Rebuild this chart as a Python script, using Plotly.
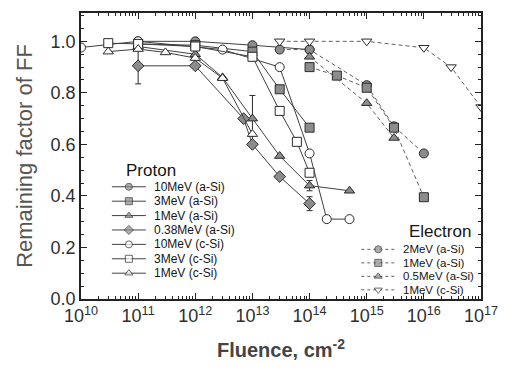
import plotly.graph_objects as go

# ---------------- proton irradiation (solid lines) ----------------
p10_asi_x = [1e11, 1e12, 1e13, 1e14]
p10_asi_y = [1.00, 1.00, 0.985, 0.968]

p3_asi_x = [1e11, 1e12, 1e13, 3e13, 1e14]
p3_asi_y = [0.99, 0.985, 0.96, 0.814, 0.665]

p1_asi_x = [1e11, 1e12, 3e12, 1e13, 3e13, 1e14, 5e14]
p1_asi_y = [0.98, 0.95, 0.86, 0.70, 0.555, 0.44, 0.42]
p1_asi_err = [0, 0, 0, 0.09, 0, 0.02, 0]

p038_asi_x = [1e11, 1e12, 7e12, 1e13, 3e13, 1e14]
p038_asi_y = [0.905, 0.905, 0.70, 0.60, 0.475, 0.37]
p038_asi_err = [0.07, 0, 0, 0, 0, 0.027]

p10_csi_x = [1e10, 1e11, 3e12, 3e13, 1e14, 2e14, 5e14]
p10_csi_y = [0.976, 1.0, 0.968, 0.90, 0.565, 0.31, 0.31]

p3_csi_x = [3e10, 1e11, 1e12, 1e13, 3e13, 6e13, 1e14]
p3_csi_y = [0.993, 0.99, 0.98, 0.94, 0.73, 0.61, 0.49]

p1_csi_x = [3e10, 1e11, 3e11, 1e12, 3e12, 1e13]
p1_csi_y = [0.96, 0.97, 0.957, 0.935, 0.857, 0.64]

# ---------------- electron irradiation (dashed lines) ----------------
e2_asi_x = [3e13, 1e14, 1e15, 3e15, 1e16]
e2_asi_y = [0.968, 0.968, 0.83, 0.67, 0.565]

e1_asi_x = [1e14, 3e14, 1e15, 3e15, 1e16]
e1_asi_y = [0.90, 0.867, 0.82, 0.665, 0.395]

e05_asi_x = [1e14, 1e15, 3e15]
e05_asi_y = [0.94, 0.76, 0.625]

e1_csi_x = [3e13, 1e14, 1e15, 1e16, 3e16, 1e17]
e1_csi_y = [1.0, 1.0, 1.0, 0.975, 0.90, 0.745]

# axis ticks
x_tick_vals = [1e10, 1e11, 1e12, 1e13, 1e14, 1e15, 1e16, 1e17]
x_tick_text = ["10<sup>%d</sup>" % e for e in range(10, 18)]
y_tick_vals = [0.0, 0.2, 0.4, 0.6, 0.8, 1.0]
y_tick_text = ["0.0", "0.2", "0.4", "0.6", "0.8", "1.0"]

INK = "#2a2a2a"
HATCH = "#8c8c8c"
FONT = "Liberation Sans, Arial, sans-serif"

proton = [
    ("10MeV (a-Si)", p10_asi_x, p10_asi_y, None, "circle", HATCH),
    ("3MeV (a-Si)", p3_asi_x, p3_asi_y, None, "square", HATCH),
    ("1MeV (a-Si)", p1_asi_x, p1_asi_y, p1_asi_err, "triangle-up", HATCH),
    ("0.38MeV (a-Si)", p038_asi_x, p038_asi_y, p038_asi_err, "diamond", HATCH),
    ("10MeV (c-Si)", p10_csi_x, p10_csi_y, None, "circle", "white"),
    ("3MeV (c-Si)", p3_csi_x, p3_csi_y, None, "square", "white"),
    ("1MeV (c-Si)", p1_csi_x, p1_csi_y, None, "triangle-up", "white"),
]
electron = [
    ("2MeV (a-Si)", e2_asi_x, e2_asi_y, None, "circle", HATCH),
    ("1MeV (a-Si)", e1_asi_x, e1_asi_y, None, "square", HATCH),
    ("0.5MeV (a-Si)", e05_asi_x, e05_asi_y, None, "triangle-up", HATCH),
    ("1MeV (c-Si)", e1_csi_x, e1_csi_y, None, "triangle-down", "white"),
]

fig = go.Figure()


def add_series(name, xs, ys, err, symbol, fill, dash):
    kw = {}
    if err is not None:
        kw["error_y"] = dict(type="data", array=err, visible=True,
                             color=INK, thickness=1, width=3)
    fig.add_trace(go.Scatter(
        x=xs, y=ys, name=name, mode="lines+markers", showlegend=False,
        line=dict(color="#404040" if dash == "solid" else "#606060",
                  width=1, dash=dash),
        marker=dict(symbol=symbol, size=9, color=fill,
                    line=dict(color=INK, width=1)),
        **kw))


for s in proton:
    add_series(*s, "solid")
for s in electron:
    add_series(*s, "4px,3px")

# ---------------- hand-placed legend boxes (pixel overlay axes) ----------------
PLOT_L, PLOT_R, PLOT_T, PLOT_B = 81, 482, 11, 299


def legend_block(title, title_xy, entries, x0, x1, y0, step, dash, size):
    fig.add_annotation(x=title_xy[0], y=title_xy[1], xref="x2", yref="y2",
                       text=title, showarrow=False, xanchor="center",
                       yanchor="middle",
                       font=dict(family=FONT, size=17, color="#151515"))
    for i, (name, _, _, _, symbol, fill) in enumerate(entries):
        yy = y0 + i * step
        xm = (x0 + x1) / 2
        fig.add_trace(go.Scatter(
            x=[x0, xm, x1], y=[yy, yy, yy], xaxis="x2", yaxis="y2",
            mode="lines+markers", showlegend=False, hoverinfo="skip",
            line=dict(color="#404040" if dash == "solid" else "#606060",
                      width=1, dash=dash),
            marker=dict(symbol=symbol, size=[0, 7, 0], color=fill,
                        line=dict(color=INK, width=1))))
        fig.add_annotation(x=x1 + 6, y=yy, xref="x2", yref="y2", text=name,
                           showarrow=False, xanchor="left", yanchor="middle",
                           font=dict(family=FONT, size=size, color="#151515"))


legend_block("Proton", (151, 170), proton, 112, 146, 186, 14.5, "solid", 12)
legend_block("Electron", (441, 231), electron, 362, 396, 249, 13.6,
             "3px,3px", 11.5)

minor_x = [k * 10 ** e for e in range(10, 17) for k in range(2, 10)]

fig.update_layout(
    width=509, height=376,
    margin=dict(l=PLOT_L, r=509 - PLOT_R, t=PLOT_T, b=376 - PLOT_B),
    paper_bgcolor="white", plot_bgcolor="white",
    font=dict(family=FONT, color="#333"),
    xaxis=dict(
        type="log", range=[10, 17], tickmode="array",
        tickvals=x_tick_vals, ticktext=x_tick_text,
        ticks="inside", ticklen=6, tickwidth=1, tickcolor="#222",
        mirror="allticks", showline=True, linecolor="#222", linewidth=1.5,
        showgrid=False, zeroline=False,
        tickfont=dict(family=FONT, size=18, color="#2e2e2e"),
        minor=dict(tickmode="array", tickvals=minor_x, ticks="inside",
                   ticklen=3, tickcolor="#222", showgrid=False),
        title=dict(text="<b>Fluence, cm<sup>-2</sup></b>", standoff=18,
                   font=dict(family=FONT, size=20, color="#444")),
    ),
    yaxis=dict(
        range=[0, 1.11], tickmode="array",
        tickvals=y_tick_vals, ticktext=y_tick_text,
        ticks="inside", ticklen=6, tickwidth=1, tickcolor="#222",
        mirror="allticks", showline=True, linecolor="#222", linewidth=1.5,
        showgrid=False, zeroline=False,
        tickfont=dict(family=FONT, size=18, color="#2e2e2e"),
        minor=dict(dtick=0.05, ticks="inside", ticklen=3,
                   tickcolor="#222", showgrid=False),
        title=dict(text="Remaining factor of FF", standoff=12,
                   font=dict(family=FONT, size=22, color="#555")),
    ),
    xaxis2=dict(overlaying="x", anchor="y2", range=[PLOT_L, PLOT_R],
                visible=False, fixedrange=True),
    yaxis2=dict(overlaying="y", anchor="x2", range=[PLOT_B, PLOT_T],
                visible=False, fixedrange=True),
)

fig.write_html("out.html")
